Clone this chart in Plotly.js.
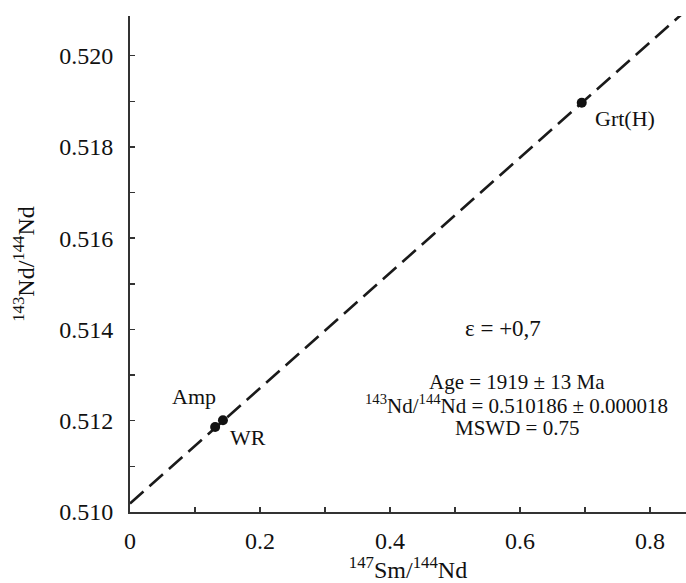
<!DOCTYPE html>
<html>
<head>
<meta charset="utf-8">
<script src="https://cdn.plot.ly/plotly-3.0.1.min.js"></script>
<style>html,body{margin:0;padding:0;background:#fff;}#chart{width:686px;height:583px;}</style>
</head>
<body>
<div id="chart"></div>
<script>
// Sample data (147Sm/144Nd, 143Nd/144Nd)
const sampleNames = ["Amp", "WR", "Grt(H)"];
const smNd = [0.131, 0.143, 0.695];
const ndNd = [0.511864, 0.512011, 0.518969];

// Isochron line end points
const isochronX = [0, 0.86];
const isochronY = [0.510186, 0.521050];

// Axis ticks
const xTickVals = [0, 0.2, 0.4, 0.6, 0.8];
const xTickText = ["0", "0.2", "0.4", "0.6", "0.8"];
const yTickVals = [0.510, 0.512, 0.514, 0.516, 0.518, 0.520];
const yTickText = ["0.510", "0.512", "0.514", "0.516", "0.518", "0.520"];

// Text blocks
const epsText = "ε = +0,7";
const resultLines = ["Age = 1919 ± 13 Ma", "<sup>143</sup>Nd/<sup>144</sup>Nd = 0.510186 ± 0.000018", "MSWD = 0.75"];

const serif = 'Liberation Serif, Times New Roman, serif';

const traces = [
  {
    x: isochronX, y: isochronY, mode: 'lines', type: 'scatter',
    line: {color: '#1a1a1a', width: 2.6, dash: '18px,8px'},
    hoverinfo: 'skip', showlegend: false
  },
  {
    x: smNd, y: ndNd, mode: 'markers', type: 'scatter',
    marker: {color: '#111', size: 10},
    text: sampleNames, showlegend: false
  }
];

const labelPos = [
  {x: 0.0985, y: 0.512537},
  {x: 0.1808, y: 0.511638},
  {x: 0.761, y: 0.518627}
];
const annotations = sampleNames.map((n, i) => ({
  x: labelPos[i].x, y: labelPos[i].y, xref: 'x', yref: 'y',
  text: n, showarrow: false, font: {family: serif, size: 22, color: '#111'}
}));
annotations.push({x: 0.574, y: 0.514029, xref: 'x', yref: 'y', text: epsText, showarrow: false,
  font: {family: serif, size: 23, color: '#111'}});
const resultY = [0.512851, 0.51236, 0.511840];
resultLines.forEach((t, i) => annotations.push({
  x: 0.595, y: resultY[i], xref: 'x', yref: 'y', text: t, showarrow: false,
  font: {family: serif, size: 21, color: '#111'}
}));

const layout = {
  width: 686, height: 583,
  margin: {l: 130, r: 0, t: 16, b: 71, pad: 0},
  paper_bgcolor: '#fff', plot_bgcolor: '#fff',
  font: {family: serif, size: 24, color: '#111'},
  showlegend: false,
  xaxis: {
    range: [0, 0.8554], tickvals: xTickVals, ticktext: xTickText,
    ticks: 'inside', ticklen: 5, tickwidth: 1.5, tickcolor: '#333',
    minor: {dtick: 0.1, ticks: 'inside', ticklen: 5, tickwidth: 1.5, tickcolor: '#333'},
    showline: true, linewidth: 2, linecolor: '#333', mirror: false,
    showgrid: false, zeroline: false, ticklabelstandoff: 6,
    tickfont: {family: serif, size: 24, color: '#111'},
    title: {text: '<sup>147</sup>Sm/<sup>144</sup>Nd', font: {family: serif, size: 24, color: '#111'}, standoff: 12}
  },
  yaxis: {
    range: [0.510, 0.52087], tickvals: yTickVals, ticktext: yTickText,
    ticks: 'inside', ticklen: 5, tickwidth: 1.5, tickcolor: '#333',
    minor: {dtick: 0.001, ticks: 'inside', ticklen: 5, tickwidth: 1.5, tickcolor: '#333'},
    showline: true, linewidth: 2, linecolor: '#333', mirror: false,
    showgrid: false, zeroline: false, ticklabelstandoff: 10,
    tickfont: {family: serif, size: 24, color: '#111'},
    title: {text: '<sup>143</sup>Nd/<sup>144</sup>Nd', font: {family: serif, size: 24, color: '#111'}, standoff: 18}
  },
  annotations: annotations
};

Plotly.newPlot('chart', traces, layout, {displayModeBar: false, staticPlot: true});
</script>
</body>
</html>
